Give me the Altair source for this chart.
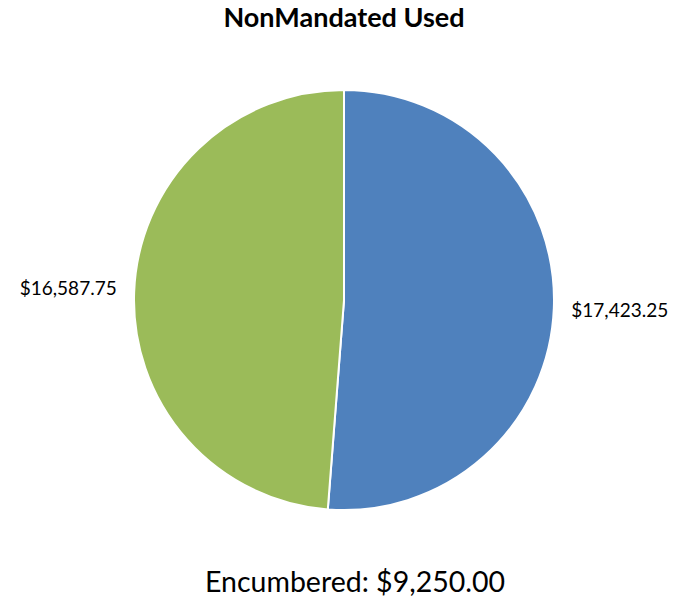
import altair as alt
import pandas as pd

categories = ["Blue", "Green"]
values = [17423.25, 16587.75]
colors = ["#4F81BD", "#9BBB59"]
order = [1, 2]

title_text = "NonMandated Used"
footer_text = "Encumbered: $9,250.00"

df = pd.DataFrame({"category": categories, "value": values, "order": order})

W, H = 674, 589
cx, cy = 336, 292

base = alt.Chart(df).encode(
    theta=alt.Theta("value:Q", stack=True),
    order=alt.Order("order:Q"),
)

pie = base.mark_arc(stroke="white", strokeWidth=2).encode(
    color=alt.Color("category:N", scale=alt.Scale(domain=categories, range=colors), legend=None),
    x=alt.value(cx), y=alt.value(cy),
    radius=alt.value(210),
)

labels = base.mark_text(font="Lato", fontSize=19, color="#000000").encode(
    text=alt.Text("value:Q", format="$,.2f"),
    x=alt.value(cx), y=alt.value(cy),
    radius=alt.value(276),
)

title = alt.Chart(pd.DataFrame({"t": [title_text]})).mark_text(
    font="Lato", fontSize=27, fontWeight="bold", color="#000000", baseline="alphabetic"
).encode(text="t:N", x=alt.value(cx), y=alt.value(19))

footer = alt.Chart(pd.DataFrame({"t": [footer_text]})).mark_text(
    font="Lato", fontSize=28.5, color="#000000", baseline="alphabetic"
).encode(text="t:N", x=alt.value(cx + 11), y=alt.value(584))

chart = alt.layer(pie, labels, title, footer).properties(
    width=W, height=H,
    autosize=alt.AutoSizeParams(type="none"),
    padding=0,
).configure_view(stroke=None)

chart.save("out.html", embed_options={"renderer": "svg", "actions": False})
